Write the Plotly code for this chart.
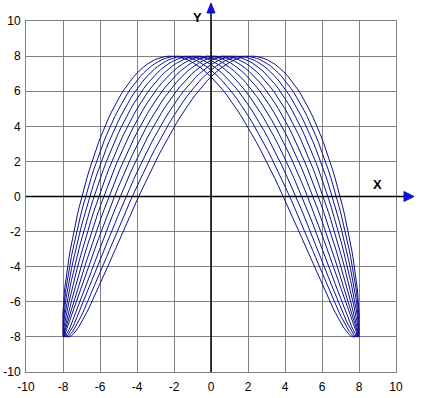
import numpy as np
import plotly.graph_objects as go

# Curve family: x = A*sin(t), y = A*cos(2t + phase)  (1:2 Lissajous)
amplitude = 8.0
phases = [0.05, 0.15, 0.25, 0.35, 0.45, 0.55]
x_ticks = [-10, -8, -6, -4, -2, 0, 2, 4, 6, 8, 10]
y_ticks = [-10, -8, -6, -4, -2, 0, 2, 4, 6, 8, 10]
axis_range = [-10, 10]

t = np.linspace(0, 2 * np.pi, 241)
fig = go.Figure()
for ph in phases:
    fig.add_trace(go.Scatter(
        x=amplitude * np.sin(t), y=amplitude * np.cos(2 * t + ph),
        mode="lines", line=dict(color="#10108c", width=1),
        hoverinfo="skip", showlegend=False))

font = dict(family="Liberation Sans, Arial, sans-serif", size=12, color="black")
fig.update_layout(
    width=424, height=398,
    margin=dict(l=26, r=28, t=21, b=26, autoexpand=False),
    paper_bgcolor="white", plot_bgcolor="white",
    font=font, showlegend=False,
    xaxis=dict(range=axis_range, tickvals=x_ticks, ticktext=[str(v) for v in x_ticks],
               showgrid=True, gridcolor="#808080", gridwidth=1, zeroline=False,
               showline=True, mirror=True, linecolor="#808080", linewidth=1,
               ticks="", ticklabelstandoff=4, fixedrange=True, automargin=False),
    yaxis=dict(range=axis_range, tickvals=y_ticks, ticktext=[str(v) for v in y_ticks],
               showgrid=True, gridcolor="#808080", gridwidth=1, zeroline=False,
               showline=True, mirror=True, linecolor="#808080", linewidth=1,
               ticks="", ticklabelstandoff=2, fixedrange=True, automargin=False),
)

# Axes through origin with arrows (paper coordinates)
fig.add_shape(type="line", xref="paper", yref="paper", x0=0, x1=1.035, y0=0.5, y1=0.5,
              line=dict(color="black", width=1.5), layer="above")
fig.add_shape(type="line", xref="paper", yref="paper", x0=0.5, x1=0.5, y0=0, y1=1.04,
              line=dict(color="black", width=1.5), layer="above")
fig.add_shape(type="path", xref="paper", yref="paper",
              path="M 1.0216 0.4858 L 1.0486 0.5 L 1.0216 0.5142 Z",
              fillcolor="#1010d0", line=dict(color="#1010d0", width=1), layer="above")
fig.add_shape(type="path", xref="paper", yref="paper",
              path="M 0.4892 1.0228 L 0.5 1.051 L 0.5108 1.0228 Z",
              fillcolor="#1010d0", line=dict(color="#1010d0", width=1), layer="above")
fig.add_annotation(xref="paper", yref="paper", x=(384 - 26) / 370, y=(372 - 184) / 351,
                   text="<b>X</b>", showarrow=False, font=dict(size=13, family=font["family"]))
fig.add_annotation(xref="paper", yref="paper", x=(197 - 26) / 370, y=(372 - 8) / 351,
                   text="<b>Y</b>", showarrow=False, font=dict(size=13, family=font["family"]))

fig.write_html("out.html")
